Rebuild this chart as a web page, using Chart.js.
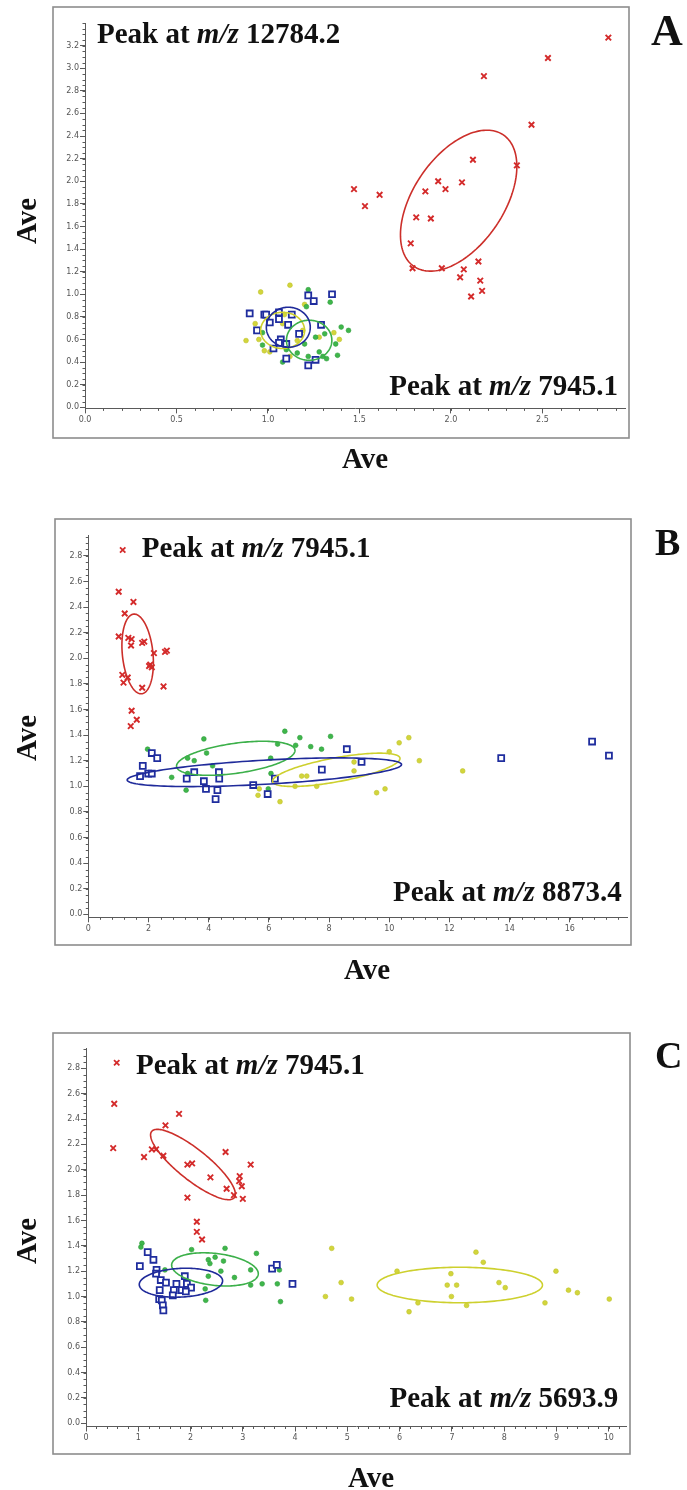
<!DOCTYPE html>
<html>
<head>
<meta charset="utf-8">
<script src="https://cdn.jsdelivr.net/npm/chart.js@4.4.1/dist/chart.umd.min.js"></script>
<style>
  html, body { margin: 0; padding: 0; background: #fff; }
  #wrap { position: relative; width: 687px; height: 1490px; overflow: hidden; background: #fff; }
  canvas { position: absolute; left: 0; }
</style>
</head>
<body>
<div id="wrap">
  <canvas id="chartA" width="687" height="490" style="top:0px"></canvas>
  <canvas id="chartB" width="687" height="500" style="top:490px"></canvas>
  <canvas id="chartC" width="687" height="500" style="top:990px"></canvas>
</div>
<script>
// ---- panel A : peak 7945.1 (x) vs peak 12784.2 (y)
const redA = [[2.86,3.27],[2.53,3.09],[2.18,2.93],[2.44,2.50],[2.12,2.19],[2.36,2.14],[1.93,2.00],[2.06,1.99],[1.97,1.93],[1.86,1.91],[1.47,1.93],[1.61,1.88],[1.53,1.78],[1.81,1.68],[1.89,1.67],[1.78,1.45],[1.79,1.23],[1.95,1.23],[2.15,1.29],[2.07,1.22],[2.05,1.15],[2.16,1.12],[2.17,1.03],[2.11,0.98]];
const blueA = [[0.90,0.83],[0.98,0.82],[0.99,0.82],[1.06,0.84],[1.13,0.82],[1.01,0.75],[1.06,0.78],[1.11,0.73],[0.94,0.68],[1.17,0.65],[1.29,0.73],[1.07,0.60],[1.06,0.57],[1.03,0.52],[1.10,0.56],[1.10,0.43],[1.22,0.37],[1.26,0.42],[1.22,0.99],[1.25,0.94],[1.35,1.00]];
const greenA = [[1.22,1.04],[1.34,0.93],[1.21,0.89],[1.40,0.71],[1.44,0.68],[1.31,0.65],[1.26,0.62],[1.37,0.56],[1.38,0.46],[1.32,0.43],[1.28,0.49],[1.22,0.45],[1.16,0.48],[1.10,0.51],[1.08,0.40],[0.97,0.55],[0.97,0.66],[1.20,0.56],[1.30,0.45]];
const yellowA = [[0.96,1.02],[1.12,1.08],[1.20,0.91],[0.88,0.59],[0.93,0.74],[0.95,0.60],[0.98,0.50],[1.01,0.49],[1.08,0.74],[1.09,0.82],[1.19,0.68],[1.36,0.66],[1.39,0.60],[1.28,0.62],[1.16,0.59],[1.12,0.45]];
// ellipses: centre x, centre y, then two conjugate semi-axis vectors (data units)
const redEllA = [2.042, 1.828, 0.244, 0.582, 0.204, -0.224];
const blueEllA = [1.111, 0.708, 0.120, 0, 0, 0.177];
const greenEllA = [1.225, 0.593, 0.124, 0, 0, 0.177];
const yellowEllA = [1.080, 0.680, 0.120, 0, 0, 0.160];
const xTicksA = [0, 0.5, 1.0, 1.5, 2.0, 2.5];
const yTicksA = [0, 0.2, 0.4, 0.6, 0.8, 1.0, 1.2, 1.4, 1.6, 1.8, 2.0, 2.2, 2.4, 2.6, 2.8, 3.0, 3.2];

// ---- panel B : peak 8873.4 (x) vs peak 7945.1 (y)
const redB = [[1.01,2.52],[1.50,2.44],[1.21,2.35],[1.01,2.17],[1.33,2.16],[1.44,2.15],[1.42,2.10],[1.86,2.13],[1.79,2.12],[2.18,2.04],[2.55,2.05],[2.61,2.06],[2.06,1.95],[2.11,1.93],[2.02,1.94],[1.13,1.87],[1.31,1.85],[1.17,1.81],[1.79,1.77],[2.50,1.78],[1.44,1.59],[1.61,1.52],[1.41,1.47]];
const blueB = [[2.11,1.26],[2.29,1.22],[1.81,1.16],[1.72,1.08],[1.99,1.10],[2.11,1.10],[3.27,1.06],[3.52,1.11],[3.84,1.04],[3.91,0.98],[4.34,1.11],[4.35,1.06],[4.29,0.97],[4.23,0.90],[5.48,1.01],[5.96,0.94],[6.20,1.06],[7.76,1.13],[8.59,1.29],[9.08,1.19],[13.72,1.22],[16.74,1.35],[17.30,1.24]];
const greenB = [[1.97,1.29],[3.84,1.37],[6.53,1.43],[7.03,1.38],[7.39,1.31],[7.75,1.29],[8.05,1.39],[6.89,1.32],[6.29,1.33],[3.93,1.26],[3.52,1.20],[3.30,1.22],[4.13,1.16],[6.06,1.22],[2.77,1.07],[3.25,0.97],[3.30,1.10],[5.98,0.98],[6.07,1.10]];
const yellowB = [[5.68,0.98],[5.64,0.93],[6.37,0.88],[6.87,1.00],[7.09,1.08],[7.26,1.08],[7.59,1.00],[8.83,1.19],[8.83,1.12],[9.58,0.95],[9.86,0.98],[10.0,1.27],[10.33,1.34],[10.65,1.38],[11.00,1.20],[12.44,1.12]];
const redEllB = [1.64, 2.034, -0.133, 0.311, 0.506, 0.012];
const blueEllB = [5.85, 1.110, 4.558, 0.061, 0.023, -0.094];
const greenEllB = [4.90, 1.219, 1.967, 0.065, 0.069, -0.116];
const yellowEllB = [8.24, 1.129, 2.116, 0.092, 0.073, -0.092];
const xTicksB = [0, 2, 4, 6, 8, 10, 12, 14, 16];
const yTicksB = [0, 0.2, 0.4, 0.6, 0.8, 1.0, 1.2, 1.4, 1.6, 1.8, 2.0, 2.2, 2.4, 2.6, 2.8];

// ---- panel C : peak 5693.9 (x) vs peak 7945.1 (y)
const redC = [[0.54,2.52],[0.52,2.17],[1.78,2.44],[1.52,2.35],[1.11,2.10],[1.26,2.16],[1.34,2.16],[1.48,2.11],[1.94,2.04],[2.03,2.05],[2.38,1.94],[2.67,2.14],[3.15,2.04],[2.94,1.95],[2.93,1.91],[2.98,1.87],[2.69,1.85],[2.83,1.80],[3.00,1.77],[1.94,1.78],[2.12,1.59],[2.12,1.51],[2.22,1.45]];
const blueC = [[1.18,1.35],[1.29,1.29],[1.03,1.24],[1.35,1.21],[1.34,1.18],[1.43,1.13],[1.53,1.11],[1.73,1.10],[1.89,1.16],[1.93,1.10],[2.01,1.07],[1.83,1.05],[1.91,1.04],[1.68,1.05],[1.66,1.01],[1.41,1.05],[1.40,0.98],[1.45,0.97],[1.47,0.93],[1.48,0.89],[3.56,1.22],[3.65,1.25],[3.95,1.10]];
const greenC = [[1.07,1.42],[1.05,1.39],[2.02,1.37],[2.66,1.38],[3.26,1.34],[2.34,1.29],[2.47,1.31],[2.63,1.28],[2.37,1.26],[1.51,1.21],[3.15,1.21],[3.70,1.21],[2.58,1.20],[2.34,1.16],[2.84,1.15],[3.37,1.10],[3.66,1.10],[3.15,1.09],[2.28,1.06],[2.29,0.97],[3.72,0.96]];
const yellowC = [[4.70,1.38],[4.88,1.11],[4.58,1.00],[5.08,0.98],[5.95,1.20],[6.18,0.88],[6.35,0.95],[6.98,1.18],[6.91,1.09],[7.09,1.09],[6.99,1.00],[7.28,0.93],[7.46,1.35],[7.60,1.27],[7.90,1.11],[8.02,1.07],[8.78,0.95],[8.99,1.20],[9.23,1.05],[9.40,1.03],[10.01,0.98]];
const redEllC = [2.046, 2.041, 0.790, -0.261, 0.183, 0.094];
const blueEllC = [1.816, 1.109, 0.797, 0.016, 0.013, -0.113];
const greenEllC = [2.467, 1.214, 0.828, -0.039, -0.035, -0.125];
const yellowEllC = [7.151, 1.091, 1.581, 0, 0, 0.140];
const xTicksC = [0, 1, 2, 3, 4, 5, 6, 7, 8, 9, 10];
const yTicksC = [0, 0.2, 0.4, 0.6, 0.8, 1.0, 1.2, 1.4, 1.6, 1.8, 2.0, 2.2, 2.4, 2.6, 2.8];

const RED = '#d42b2b', BLUE = '#1f2d9e', GREEN = '#3fb64b', YELLOW = '#d2d53c';
const AXIS = '#5a5a5a';
const SERIF = '"Liberation Serif", "Times New Roman", serif';

function pts(arr) { return arr.map(([x, y]) => ({x, y})); }

function groupSets(red, blue, green, yellow) {
  return [
    {data: pts(red), pointStyle: 'crossRot', pointRadius: 3.9, pointBorderWidth: 1.9, pointBorderColor: RED, pointBackgroundColor: RED},
    {data: pts(blue), pointStyle: 'rect', pointRadius: 4.2, pointBorderWidth: 1.8, pointBorderColor: BLUE, pointBackgroundColor: '#fff'},
    {data: pts(green), pointStyle: 'circle', pointRadius: 2.4, pointBorderWidth: 0.6, pointBorderColor: '#2f9e3c', pointBackgroundColor: GREEN},
    {data: pts(yellow), pointStyle: 'circle', pointRadius: 2.4, pointBorderWidth: 0.6, pointBorderColor: '#bfc22a', pointBackgroundColor: YELLOW}
  ];
}

function axis(min, max, ticks, digits, fitSize, horizontal) {
  return {
    type: 'linear', min: min, max: max,
    border: {display: true, color: AXIS, width: 1},
    grid: {display: true, drawOnChartArea: false, drawTicks: true, tickLength: 5, tickColor: AXIS, tickWidth: 1},
    ticks: {
      font: {family: 'DejaVu Sans', size: 8}, color: '#555', padding: horizontal ? 2 : 1,
      maxRotation: 0, autoSkip: false,
      callback: v => Number(v).toFixed(digits)
    },
    afterBuildTicks: s => { s.ticks = ticks.map(v => ({value: v})); },
    afterFit: s => { if (horizontal) s.height = fitSize; else s.width = fitSize; }
  };
}

function drawPeak(ctx, value, x, y, align) {
  const parts = [['Peak at ', 'bold'], ['m/z', 'italic bold'], [' ' + value, 'bold']];
  const fonts = parts.map(p => p[1] + ' 29px ' + SERIF);
  const widths = parts.map((p, i) => { ctx.font = fonts[i]; return ctx.measureText(p[0]).width; });
  const total = widths.reduce((a, b) => a + b, 0);
  let cx = align === 'right' ? x - total : x;
  ctx.textAlign = 'left';
  ctx.textBaseline = 'alphabetic';
  parts.forEach((p, i) => { ctx.font = fonts[i]; ctx.fillText(p[0], cx, y); cx += widths[i]; });
}

function panelPlugin(spec) {
  return {
    id: 'panel' + spec.letter,
    afterDatasetsDraw(chart) {
      const {ctx, scales: {x, y}} = chart;
      ctx.save();
      ctx.lineWidth = 1.6;
      spec.ellipses.forEach(([e, color]) => {
        const [cx, cy, ax, ay, bx, by] = e;
        ctx.strokeStyle = color;
        ctx.beginPath();
        for (let i = 0; i <= 160; i++) {
          const t = i / 160 * 2 * Math.PI;
          const px = x.getPixelForValue(cx + ax * Math.cos(t) + bx * Math.sin(t));
          const py = y.getPixelForValue(cy + ay * Math.cos(t) + by * Math.sin(t));
          if (i === 0) ctx.moveTo(px, py); else ctx.lineTo(px, py);
        }
        ctx.closePath();
        ctx.stroke();
      });
      ctx.restore();
    },
    afterDraw(chart) {
      const {ctx, scales: {x, y}} = chart;
      ctx.save();
      // minor ticks
      ctx.strokeStyle = AXIS;
      ctx.lineWidth = 1;
      ctx.beginPath();
      for (let i = 0; i * spec.minorX <= x.max + 1e-9; i++) {
        const p = Math.round(x.getPixelForValue(i * spec.minorX)) + 0.5;
        ctx.moveTo(p, x.top); ctx.lineTo(p, x.top + 2.5);
      }
      for (let i = 0; i * spec.minorY <= y.max + 1e-9; i++) {
        const p = Math.round(y.getPixelForValue(i * spec.minorY)) + 0.5;
        ctx.moveTo(y.right, p); ctx.lineTo(y.right - 2.5, p);
      }
      ctx.stroke();
      // frame
      const b = spec.box;
      ctx.strokeStyle = '#8d8d8d';
      ctx.lineWidth = 1.6;
      ctx.strokeRect(b[0], b[1], b[2] - b[0], b[3] - b[1]);
      // texts
      ctx.fillStyle = '#111';
      ctx.font = 'bold ' + spec.letterSize + 'px ' + SERIF;
      ctx.textAlign = 'left';
      ctx.textBaseline = 'alphabetic';
      ctx.fillText(spec.letter, spec.letterAt[0], spec.letterAt[1]);
      ctx.font = 'bold 29px ' + SERIF;
      ctx.textAlign = 'center';
      ctx.fillText('Ave', spec.xTitle[0], spec.xTitle[1]);
      ctx.save();
      ctx.translate(spec.yTitle[0], spec.yTitle[1]);
      ctx.rotate(-Math.PI / 2);
      ctx.fillText('Ave', 0, 0);
      ctx.restore();
      if (spec.marker) {
        ctx.strokeStyle = RED;
        ctx.fillStyle = RED;
        ctx.lineWidth = 1.8;
        Chart.helpers.drawPoint(ctx, {pointStyle: 'crossRot', radius: 3.8, borderWidth: 1.8, rotation: 0}, spec.marker[0], spec.marker[1]);
        ctx.fillStyle = '#111';
      }
      drawPeak(ctx, spec.topPeak, spec.topAt[0], spec.topAt[1], 'left');
      drawPeak(ctx, spec.bottomPeak, spec.bottomAt[0], spec.bottomAt[1], 'right');
      ctx.restore();
    }
  };
}

function makeChart(id, sets, xAxis, yAxis, pad, spec) {
  return new Chart(document.getElementById(id), {
    type: 'scatter',
    data: {datasets: sets},
    options: {
      responsive: false,
      animation: false,
      events: [],
      layout: {padding: pad},
      plugins: {legend: {display: false}, tooltip: {enabled: false}, title: {display: false}},
      scales: {x: xAxis, y: yAxis}
    },
    plugins: [panelPlugin(spec)]
  });
}

makeChart('chartA', groupSets(redA, blueA, greenA, yellowA),
  axis(0, 2.951, xTicksA, 1, 81.6, true),
  axis(-0.01, 3.40, yTicksA, 1, 85, false),
  {left: 0, right: 62, top: 23, bottom: 0},
  {letter: 'A', letterSize: 44, letterAt: [651, 45], xTitle: [365, 468], yTitle: [36, 221],
   box: [53, 7, 629, 438], minorX: 0.1, minorY: 0.05,
   topPeak: '12784.2', topAt: [97, 43], bottomPeak: '7945.1', bottomAt: [618, 395],
   ellipses: [[yellowEllA, '#cdd02e'], [greenEllA, '#3cb04a'], [blueEllA, '#1f2a9a'], [redEllA, '#cc2f2a']]});

makeChart('chartB', groupSets(redB, blueB, greenB, yellowB),
  axis(0, 17.9, xTicksB, 0, 72.7, true),
  axis(-0.023, 2.963, yTicksB, 1, 88.3, false),
  {left: 0, right: 60, top: 45, bottom: 0},
  {letter: 'B', letterSize: 38, letterAt: [655, 65], xTitle: [367, 489], yTitle: [36, 248],
   box: [55, 29, 631, 455], minorX: 0.4, minorY: 0.05, marker: [122.7, 60],
   topPeak: '7945.1', topAt: [141.7, 66.7], bottomPeak: '8873.4', bottomAt: [621.7, 410.7],
   ellipses: [[yellowEllB, '#cdd02e'], [greenEllB, '#3cb04a'], [blueEllB, '#1f2a9a'], [redEllB, '#cc2f2a']]});

makeChart('chartC', groupSets(redC, blueC, greenC, yellowC),
  axis(0, 10.33, xTicksC, 0, 63.5, true),
  axis(-0.025, 2.96, yTicksC, 1, 86, false),
  {left: 0, right: 61, top: 58, bottom: 0},
  {letter: 'C', letterSize: 38, letterAt: [655, 78], xTitle: [371, 497], yTitle: [36, 251],
   box: [53, 43, 630, 464], minorX: 0.2, minorY: 0.05, marker: [116.7, 72.7],
   topPeak: '7945.1', topAt: [136, 84], bottomPeak: '5693.9', bottomAt: [618.3, 417.3],
   ellipses: [[yellowEllC, '#cdd02e'], [greenEllC, '#3cb04a'], [blueEllC, '#1f2a9a'], [redEllC, '#cc2f2a']]});
</script>
</body>
</html>
